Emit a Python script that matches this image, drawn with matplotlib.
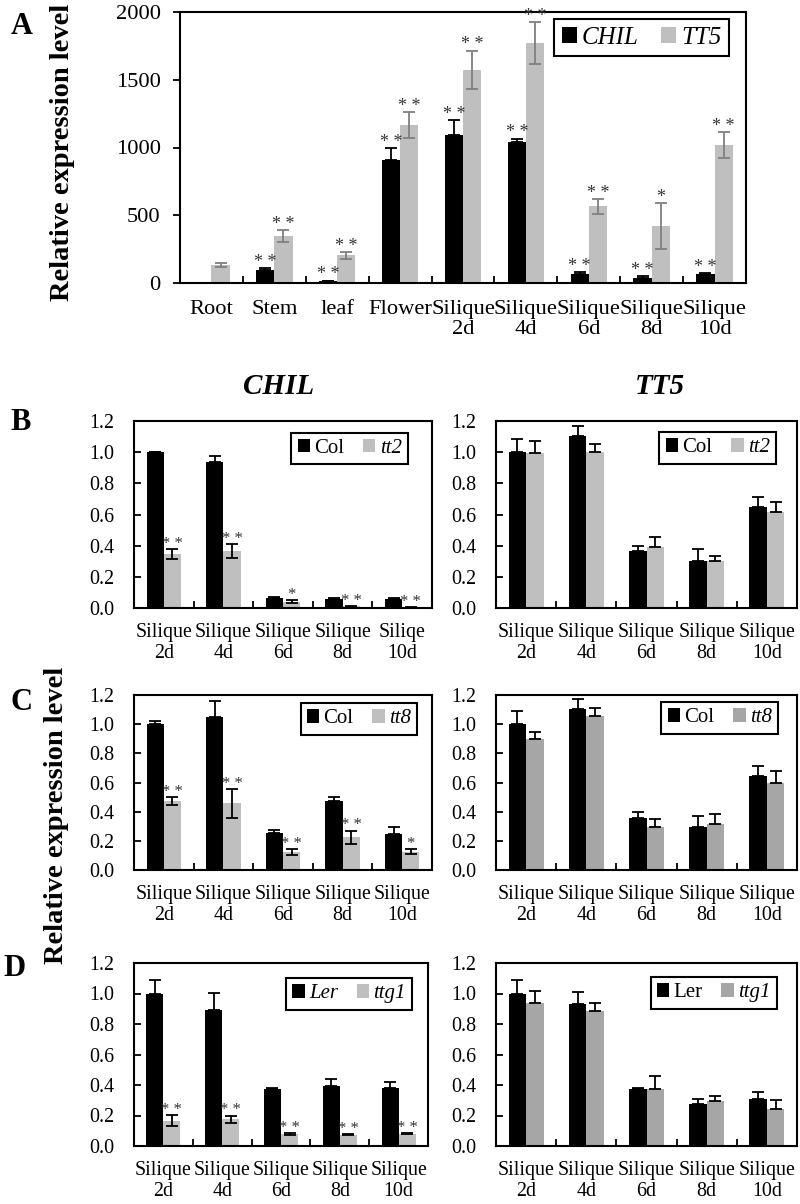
import numpy as np
import matplotlib
matplotlib.use('Agg')
import matplotlib.pyplot as plt
from matplotlib.patches import Patch

plt.rcParams['font.family'] = ['Liberation Serif', 'DejaVu Serif']

W, H = 800, 1204

# ---------------- panel A : tissues ----------------
tissues = ['Root', 'Stem', 'leaf', 'Flower', 'Silique\n2d', 'Silique\n4d',
           'Silique\n6d', 'Silique\n8d', 'Silique\n10d']
chil_a = [0, 95, 12, 910, 1095, 1040, 66, 37, 64]
chil_a_err = [0, 15, 5, 85, 110, 25, 15, 15, 10]
tt5_a = [130, 345, 205, 1165, 1575, 1770, 566, 418, 1016]
tt5_a_err = [15, 45, 25, 95, 140, 155, 55, 170, 95]
chil_a_sig = ['', '**', '**', '**', '**', '**', '**', '**', '**']
tt5_a_sig = ['', '**', '**', '**', '**', '**', '**', '*', '**']

# ---------------- panels B-D : siliques ----------------
silique = ['Silique\n2d', 'Silique\n4d', 'Silique\n6d', 'Silique\n8d', 'Silique\n10d']
silique_typo = ['Silique\n2d', 'Silique\n4d', 'Silique\n6d', 'Silique\n8d', 'Siliqe\n10d']

# B, CHIL in tt2
b_chil_col = [1.0, 0.936, 0.065, 0.06, 0.06]
b_chil_col_err = [0.0, 0.04, 0.005, 0.004, 0.004]
b_chil_tt2 = [0.347, 0.366, 0.04, 0.01, 0.005]
b_chil_tt2_err = [0.03, 0.043, 0.01, 0.003, 0.002]
b_chil_sig = ['**', '**', '*', '**', '**']
# B, TT5 in tt2
b_tt5_col = [1.0, 1.104, 0.366, 0.304, 0.65]
b_tt5_col_err = [0.085, 0.064, 0.034, 0.073, 0.064]
b_tt5_tt2 = [0.993, 0.998, 0.39, 0.304, 0.614]
b_tt5_tt2_err = [0.08, 0.055, 0.066, 0.03, 0.068]

# C, CHIL in tt8
c_chil_col = [1.0, 1.047, 0.256, 0.475, 0.245]
c_chil_col_err = [0.025, 0.114, 0.018, 0.028, 0.052]
c_chil_tt8 = [0.473, 0.457, 0.123, 0.224, 0.126]
c_chil_tt8_err = [0.025, 0.097, 0.02, 0.046, 0.016]
c_chil_sig = ['**', '**', '**', '**', '*']
# C, TT5 in tt8
c_tt5_col = [1.0, 1.104, 0.36, 0.293, 0.647]
c_tt5_col_err = [0.09, 0.066, 0.035, 0.077, 0.066]
c_tt5_tt8 = [0.897, 1.056, 0.297, 0.316, 0.60]
c_tt5_tt8_err = [0.052, 0.055, 0.05, 0.068, 0.078]

# D, CHIL in ttg1
d_chil_ler = [1.0, 0.895, 0.371, 0.396, 0.382]
d_chil_ler_err = [0.09, 0.11, 0.008, 0.044, 0.04]
d_chil_ttg1 = [0.165, 0.176, 0.081, 0.073, 0.081]
d_chil_ttg1_err = [0.037, 0.024, 0.006, 0.004, 0.005]
d_chil_sig = ['**', '**', '**', '**', '**']
# D, TT5 in ttg1
d_tt5_ler = [1.0, 0.928, 0.371, 0.274, 0.311]
d_tt5_ler_err = [0.09, 0.08, 0.01, 0.032, 0.045]
d_tt5_ttg1 = [0.939, 0.885, 0.377, 0.296, 0.242]
d_tt5_ttg1_err = [0.079, 0.05, 0.084, 0.032, 0.06]

LIGHT = '#BFBFBF'
MID = '#A6A6A6'


def box(l, t, r, b):
    # pixel box -> figure fraction
    return [l / W, 1 - b / H, (r - l) / W, (b - t) / H]


def draw_panel(ax, labels, blk, blk_err, gry, gry_err, gry_col, gry_ecol, gry_both,
               blk_sig, gry_sig, ymax, yticks, yfmt, fs, ydir, ypad, xpad,
               leg_labels, leg_italic, leg_anchor, leg_fs, capsize, star_fs):
    x = np.arange(len(labels))
    w = 0.29
    zeros = np.zeros(len(x))
    ax.bar(x - w / 2, blk, w, color='black', zorder=2)
    ax.bar(x + w / 2, gry, w, color=gry_col, zorder=2)
    ax.errorbar(x - w / 2, blk, yerr=[zeros, blk_err], fmt='none', ecolor='black',
                elinewidth=1.3, capsize=capsize, capthick=1.3, zorder=3)
    low = gry_err if gry_both else zeros
    ax.errorbar(x + w / 2, gry, yerr=[low, gry_err], fmt='none', ecolor=gry_ecol,
                elinewidth=1.3, capsize=capsize, capthick=1.3, zorder=3)
    # significance stars
    for i in range(len(x)):
        if blk_sig is not None and blk_sig[i]:
            ax.annotate(' '.join(blk_sig[i]), (x[i] - w / 2, blk[i] + blk_err[i]),
                        xytext=(0, -2), textcoords='offset points', ha='center',
                        va='bottom', fontsize=star_fs, color='#333333')
        if gry_sig is not None and gry_sig[i]:
            ax.annotate(' '.join(gry_sig[i]), (x[i] + w / 2, gry[i] + gry_err[i]),
                        xytext=(0, -2), textcoords='offset points', ha='center',
                        va='bottom', fontsize=star_fs, color='#333333')
    ax.set_xlim(-0.5, len(x) - 0.5)
    ax.set_ylim(0, ymax)
    ax.set_yticks(yticks)
    ax.set_yticklabels([yfmt % v for v in yticks], fontsize=fs)
    ax.set_xticks(x)
    ax.set_xticklabels(labels, fontsize=fs, linespacing=1.1)
    ax.set_xticks(x[:-1] + 0.5, minor=True)
    ax.tick_params(axis='x', which='major', length=0, pad=xpad)
    ax.tick_params(axis='x', which='minor', direction='in', length=5, width=1.3)
    ax.tick_params(axis='y', direction=ydir, length=5, width=1.3, pad=ypad)
    for s in ax.spines.values():
        s.set_linewidth(1.5)
    handles = [Patch(facecolor='black'), Patch(facecolor=gry_col)]
    leg = ax.legend(handles, leg_labels, loc='upper right', bbox_to_anchor=leg_anchor,
                    ncol=2, fontsize=leg_fs, frameon=True, fancybox=False,
                    edgecolor='black', framealpha=1, handlelength=0.6, handleheight=0.6,
                    handletextpad=0.2, columnspacing=0.9, borderpad=0.3,
                    borderaxespad=0)
    leg.get_frame().set_linewidth(1.5)
    for t, it in zip(leg.get_texts(), leg_italic):
        if it:
            t.set_style('italic')
    return ax


fig = plt.figure(figsize=(W / 100, H / 100), dpi=100)

# panel A
axA = fig.add_axes(box(180, 12, 746, 283))
draw_panel(axA, tissues, chil_a, chil_a_err, tt5_a, tt5_a_err, LIGHT, '#7F7F7F', True,
           chil_a_sig, tt5_a_sig, 2000, [0, 500, 1000, 1500, 2000], '%d', 16.2,
           'out', 9, 12, ['CHIL', 'TT5'], [True, True], (0.97, 0.974), 18, 4, 13)

# panels B-D
left_x = (134, 432)
right_x = (496, 797)
rows = [(421, 608), (695, 870), (963, 1146)]
yt = [0.0, 0.2, 0.4, 0.6, 0.8, 1.0, 1.2]
fsb = 14.4

axB1 = fig.add_axes(box(left_x[0], rows[0][0], left_x[1], rows[0][1]))
draw_panel(axB1, silique_typo, b_chil_col, b_chil_col_err, b_chil_tt2, b_chil_tt2_err,
           LIGHT, 'black', True, None, b_chil_sig, 1.2, yt, '%.1f', fsb, 'in', 14, 11,
           ['Col', 'tt2'], [False, True], (0.919, 0.936), 15, 4, 12)
axB2 = fig.add_axes(box(right_x[0], rows[0][0], right_x[1], rows[0][1]))
draw_panel(axB2, silique, b_tt5_col, b_tt5_col_err, b_tt5_tt2, b_tt5_tt2_err,
           LIGHT, 'black', False, None, None, 1.2, yt, '%.1f', fsb, 'in', 14, 11,
           ['Col', 'tt2'], [False, True], (0.93, 0.941), 15, 4, 12)

axC1 = fig.add_axes(box(left_x[0], rows[1][0], left_x[1], rows[1][1]))
draw_panel(axC1, silique, c_chil_col, c_chil_col_err, c_chil_tt8, c_chil_tt8_err,
           LIGHT, 'black', True, None, c_chil_sig, 1.2, yt, '%.1f', fsb, 'in', 14, 11,
           ['Col', 'tt8'], [False, True], (0.95, 0.954), 15, 4, 12)
axC2 = fig.add_axes(box(right_x[0], rows[1][0], right_x[1], rows[1][1]))
draw_panel(axC2, silique, c_tt5_col, c_tt5_col_err, c_tt5_tt8, c_tt5_tt8_err,
           MID, 'black', False, None, None, 1.2, yt, '%.1f', fsb, 'in', 14, 11,
           ['Col', 'tt8'], [False, True], (0.937, 0.96), 15, 4, 12)

axD1 = fig.add_axes(box(left_x[0], rows[2][0], 428, rows[2][1]))
draw_panel(axD1, silique, d_chil_ler, d_chil_ler_err, d_chil_ttg1, d_chil_ttg1_err,
           LIGHT, 'black', True, None, d_chil_sig, 1.2, yt, '%.1f', fsb, 'in', 14, 11,
           ['Ler', 'ttg1'], [True, True], (0.946, 0.918), 15, 4, 12)
axD2 = fig.add_axes(box(right_x[0], rows[2][0], right_x[1], rows[2][1]))
draw_panel(axD2, silique, d_tt5_ler, d_tt5_ler_err, d_tt5_ttg1, d_tt5_ttg1_err,
           MID, 'black', False, None, None, 1.2, yt, '%.1f', fsb, 'in', 14, 11,
           ['Ler', 'ttg1'], [False, True], (0.933, 0.923), 15, 4, 12)

# labels, letters, gene titles
fig.text(63 / W, 1 - 152 / H, 'Relative expression level', rotation=90, ha='center',
         va='center', fontsize=20.5, fontweight='bold')
fig.text(57 / W, 1 - 815 / H, 'Relative expression level', rotation=90, ha='center',
         va='center', fontsize=20.5, fontweight='bold')
for letter, lx, ly in [('A', 22, 27), ('B', 21, 422), ('C', 22, 703), ('D', 14, 968)]:
    fig.text(lx / W, 1 - ly / H, letter, ha='center', va='center', fontsize=22,
             fontweight='bold')
fig.text(279 / W, 1 - 387 / H, 'CHIL', ha='center', va='center', fontsize=21,
         fontweight='bold', style='italic')
fig.text(660 / W, 1 - 387 / H, 'TT5', ha='center', va='center', fontsize=21,
         fontweight='bold', style='italic')

fig.savefig('out.png', dpi=100)
